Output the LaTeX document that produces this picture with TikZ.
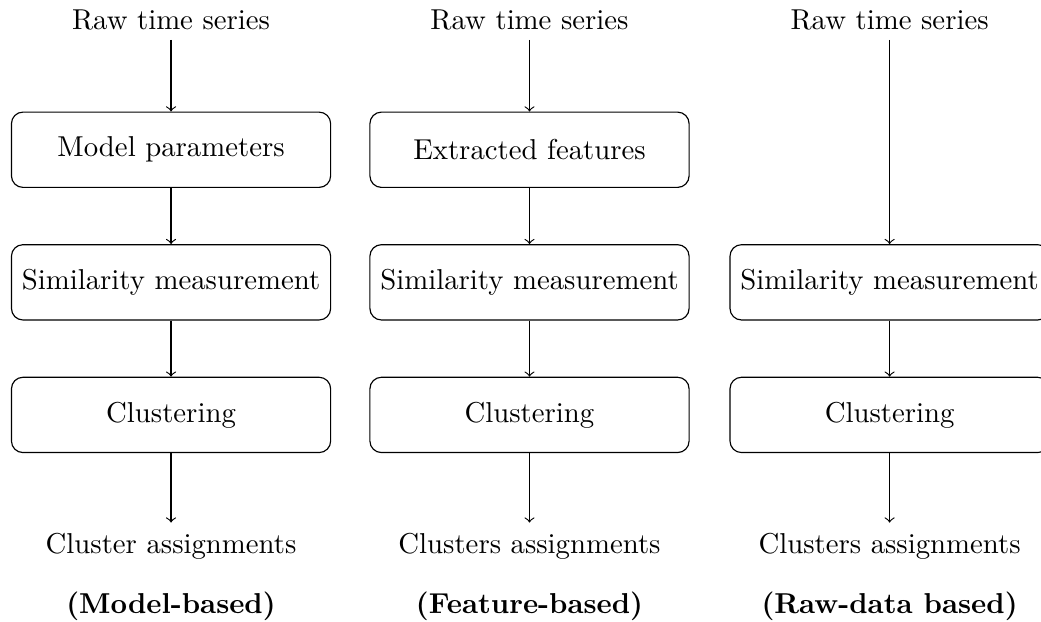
\documentclass[tikz,border=0pt]{standalone}
\usepackage{tikz}

\tikzset{
	stagebox/.style={draw, rounded corners, minimum width=3.9cm, minimum height=0.92cm},
	method/.style={font=\bfseries}
}

\begin{document}
\begin{tikzpicture}
	\useasboundingbox (0,0) rectangle (12.72,-7.60);
	% Model-based column
	\node (rawA) at (2.09,-0.24) {Raw time series};
	\node[stagebox] (modelA) at (2.09,-1.83) {Model parameters};
	\node[stagebox] (simA) at (2.09,-3.45) {Similarity measurement};
	\node[stagebox] (clusA) at (2.09,-5.07) {Clustering};
	\node (outA) at (2.09,-6.67) {Cluster assignments};
	\node[method] (nameA) at (2.09,-7.41) {(Model-based)};
	\draw [->] (rawA) -- (modelA);
	\draw [->] (modelA) -- (simA);
	\draw [->] (simA) -- (clusA);
	\draw [->] (clusA) -- (outA);
	% Feature-based column
	\node (rawB) at (6.47,-0.24) {Raw time series};
	\node[stagebox] (featB) at (6.47,-1.83) {Extracted features};
	\node[stagebox] (simB) at (6.47,-3.45) {Similarity measurement};
	\node[stagebox] (clusB) at (6.47,-5.07) {Clustering};
	\node (outB) at (6.47,-6.67) {Clusters assignments};
	\node[method] (nameB) at (6.47,-7.41) {(Feature-based)};
	\draw [->] (rawB) -- (featB);
	\draw [->] (featB) -- (simB);
	\draw [->] (simB) -- (clusB);
	\draw [->] (clusB) -- (outB);
	% Raw-data based column
	\node (rawC) at (10.87,-0.24) {Raw time series};
	\node[stagebox] (simC) at (10.87,-3.45) {Similarity measurement};
	\node[stagebox] (clusC) at (10.87,-5.07) {Clustering};
	\node (outC) at (10.87,-6.67) {Clusters assignments};
	\node[method] (nameC) at (10.87,-7.41) {(Raw-data based)};
	\draw [->] (rawC) -- (simC);
	\draw [->] (simC) -- (clusC);
	\draw [->] (clusC) -- (outC);
\end{tikzpicture}
\end{document}
